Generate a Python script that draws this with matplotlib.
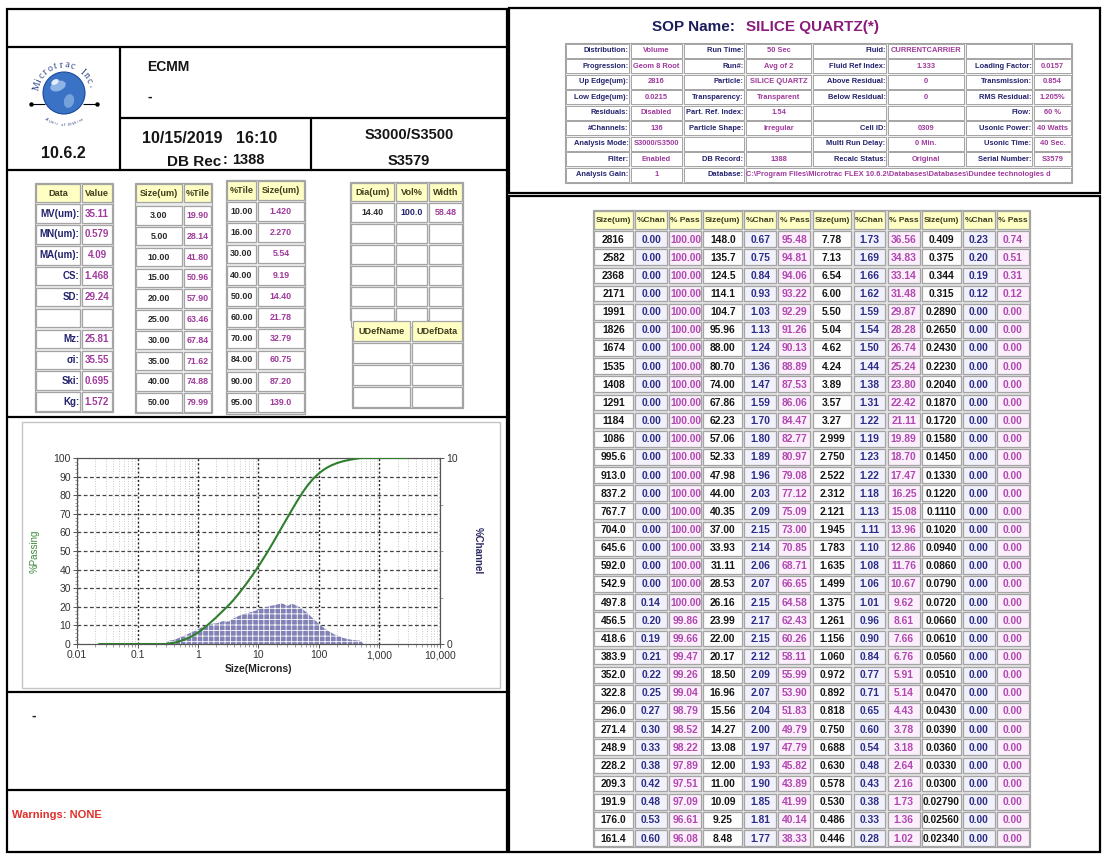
import matplotlib
matplotlib.use('Agg')
import matplotlib.pyplot as plt
from matplotlib.patches import Rectangle, Circle, Ellipse
from matplotlib.ticker import FixedLocator, MultipleLocator, NullFormatter, LogLocator
import numpy as np

plt.rcParams['font.family'] = ['Liberation Sans', 'DejaVu Sans']
plt.rcParams['hatch.color'] = 'white'
plt.rcParams['hatch.linewidth'] = 0.6

# ---------------- data ----------------
size_g1 = ["2816", "2582", "2368", "2171", "1991", "1826", "1674", "1535", "1408", "1291", "1184", "1086",
           "995.6", "913.0", "837.2", "767.7", "704.0", "645.6", "592.0", "542.9", "497.8", "456.5", "418.6",
           "383.9", "352.0", "322.8", "296.0", "271.4", "248.9", "228.2", "209.3", "191.9", "176.0", "161.4"]
size_g2 = ["148.0", "135.7", "124.5", "114.1", "104.7", "95.96", "88.00", "80.70", "74.00", "67.86", "62.23",
           "57.06", "52.33", "47.98", "44.00", "40.35", "37.00", "33.93", "31.11", "28.53", "26.16", "23.99",
           "22.00", "20.17", "18.50", "16.96", "15.56", "14.27", "13.08", "12.00", "11.00", "10.09", "9.25", "8.48"]
size_g3 = ["7.78", "7.13", "6.54", "6.00", "5.50", "5.04", "4.62", "4.24", "3.89", "3.57", "3.27", "2.999",
           "2.750", "2.522", "2.312", "2.121", "1.945", "1.783", "1.635", "1.499", "1.375", "1.261", "1.156",
           "1.060", "0.972", "0.892", "0.818", "0.750", "0.688", "0.630", "0.578", "0.530", "0.486", "0.446"]
size_g4 = ["0.409", "0.375", "0.344", "0.315", "0.2890", "0.2650", "0.2430", "0.2230", "0.2040", "0.1870",
           "0.1720", "0.1580", "0.1450", "0.1330", "0.1220", "0.1110", "0.1020", "0.0940", "0.0860", "0.0790",
           "0.0720", "0.0660", "0.0610", "0.0560", "0.0510", "0.0470", "0.0430", "0.0390", "0.0360", "0.0330",
           "0.0300", "0.02790", "0.02560", "0.02340"]

chan_g1 = [0.00, 0.00, 0.00, 0.00, 0.00, 0.00, 0.00, 0.00, 0.00, 0.00, 0.00, 0.00, 0.00, 0.00, 0.00, 0.00,
           0.00, 0.00, 0.00, 0.00, 0.14, 0.20, 0.19, 0.21, 0.22, 0.25, 0.27, 0.30, 0.33, 0.38, 0.42, 0.48,
           0.53, 0.60]
pass_g1 = [100.00, 100.00, 100.00, 100.00, 100.00, 100.00, 100.00, 100.00, 100.00, 100.00, 100.00, 100.00,
           100.00, 100.00, 100.00, 100.00, 100.00, 100.00, 100.00, 100.00, 100.00, 99.86, 99.66, 99.47, 99.26,
           99.04, 98.79, 98.52, 98.22, 97.89, 97.51, 97.09, 96.61, 96.08]
chan_g2 = [0.67, 0.75, 0.84, 0.93, 1.03, 1.13, 1.24, 1.36, 1.47, 1.59, 1.70, 1.80, 1.89, 1.96, 2.03, 2.09,
           2.15, 2.14, 2.06, 2.07, 2.15, 2.17, 2.15, 2.12, 2.09, 2.07, 2.04, 2.00, 1.97, 1.93, 1.90, 1.85,
           1.81, 1.77]
pass_g2 = [95.48, 94.81, 94.06, 93.22, 92.29, 91.26, 90.13, 88.89, 87.53, 86.06, 84.47, 82.77, 80.97, 79.08,
           77.12, 75.09, 73.00, 70.85, 68.71, 66.65, 64.58, 62.43, 60.26, 58.11, 55.99, 53.90, 51.83, 49.79,
           47.79, 45.82, 43.89, 41.99, 40.14, 38.33]
chan_g3 = [1.73, 1.69, 1.66, 1.62, 1.59, 1.54, 1.50, 1.44, 1.38, 1.31, 1.22, 1.19, 1.23, 1.22, 1.18, 1.13,
           1.11, 1.10, 1.08, 1.06, 1.01, 0.96, 0.90, 0.84, 0.77, 0.71, 0.65, 0.60, 0.54, 0.48, 0.43, 0.38,
           0.33, 0.28]
pass_g3 = [36.56, 34.83, 33.14, 31.48, 29.87, 28.28, 26.74, 25.24, 23.80, 22.42, 21.11, 19.89, 18.70, 17.47,
           16.25, 15.08, 13.96, 12.86, 11.76, 10.67, 9.62, 8.61, 7.66, 6.76, 5.91, 5.14, 4.43, 3.78, 3.18,
           2.64, 2.16, 1.73, 1.36, 1.02]
chan_g4 = [0.23, 0.20, 0.19, 0.12, 0.00, 0.00, 0.00, 0.00, 0.00, 0.00, 0.00, 0.00, 0.00, 0.00, 0.00, 0.00,
           0.00, 0.00, 0.00, 0.00, 0.00, 0.00, 0.00, 0.00, 0.00, 0.00, 0.00, 0.00, 0.00, 0.00, 0.00, 0.00,
           0.00, 0.00]
pass_g4 = [0.74, 0.51, 0.31, 0.12, 0.00, 0.00, 0.00, 0.00, 0.00, 0.00, 0.00, 0.00, 0.00, 0.00, 0.00, 0.00,
           0.00, 0.00, 0.00, 0.00, 0.00, 0.00, 0.00, 0.00, 0.00, 0.00, 0.00, 0.00, 0.00, 0.00, 0.00, 0.00,
           0.00, 0.00]

stat_labels = ["MV(um):", "MN(um):", "MA(um):", "CS:", "SD:", "", "Mz:", "σi:", "Ski:", "Kg:"]
stat_values = ["35.11", "0.579", "4.09", "1.468", "29.24", "", "25.81", "35.55", "0.695", "1.572"]
tile_sizes = ["3.00", "5.00", "10.00", "15.00", "20.00", "25.00", "30.00", "35.00", "40.00", "50.00"]
tile_pcts = ["19.90", "28.14", "41.80", "50.96", "57.90", "63.46", "67.84", "71.62", "74.88", "79.99"]
ptile_pcts = ["10.00", "16.00", "30.00", "40.00", "50.00", "60.00", "70.00", "84.00", "90.00", "95.00"]
ptile_sizes = ["1.420", "2.270", "5.54", "9.19", "14.40", "21.78", "32.79", "60.75", "87.20", "139.0"]
peak_dia = ["14.40"]
peak_vol = ["100.0"]
peak_width = ["58.48"]

sop_rows = [
    ["Distribution:", "Volume", "Run Time:", "50 Sec", "Fluid:", "CURRENTCARRIER", "", ""],
    ["Progression:", "Geom 8 Root", "Run#:", "Avg of 2", "Fluid Ref Index:", "1.333", "Loading Factor:", "0.0157"],
    ["Up Edge(um):", "2816", "Particle:", "SILICE QUARTZ", "Above Residual:", "0", "Transmission:", "0.854"],
    ["Low Edge(um):", "0.0215", "Transparency:", "Transparent", "Below Residual:", "0", "RMS Residual:", "1.205%"],
    ["Residuals:", "Disabled", "Part. Ref. Index:", "1.54", "", "", "Flow:", "60 %"],
    ["#Channels:", "136", "Particle Shape:", "Irregular", "Cell ID:", "0309", "Usonic Power:", "40 Watts"],
    ["Analysis Mode:", "S3000/S3500", "", "", "Multi Run Delay:", "0 Min.", "Usonic Time:", "40 Sec."],
    ["Filter:", "Enabled", "DB Record:", "1388", "Recalc Status:", "Original", "Serial Number:", "S3579"],
]
sop_last = ["Analysis Gain:", "1", "Database:",
            r"C:\Program Files\Microtrac FLEX 10.6.2\Databases\Databases\Dundee technologies d"]

x_tick_vals = [0.01, 0.1, 1, 10, 100, 1000, 10000]
x_tick_labels = ["0.01", "0.1", "1", "10", "100", "1,000", "10,000"]

# ---------------- figure ----------------
W, H = 1102, 857
fig = plt.figure(figsize=(W / 100, H / 100), dpi=100)
bg = fig.add_axes([0, 0, 1, 1])
bg.set_xlim(0, W)
bg.set_ylim(H, 0)
bg.axis('off')

NAVY = '#23236e'
PURP = '#a03a9c'
GRID = '#a4a4a4'


def line(x0, y0, x1, y1, lw=1.6, c='black'):
    bg.plot([x0, x1], [y0, y1], color=c, lw=lw, solid_capstyle='butt')


def rect(x0, y0, w, h, fc='none', ec='black', lw=1.6, z=1):
    r = Rectangle((x0, y0), w, h, facecolor=fc, edgecolor=ec, linewidth=lw, zorder=z)
    bg.add_patch(r)
    return r


def cell(x0, y0, w, h, fc='white', ec=GRID, lw=0.9, inset=1.2):
    return rect(x0 + inset, y0 + inset, w - 2 * inset, h - 2 * inset, fc=fc, ec=ec, lw=lw, z=2)


def txt(x, y, s, size, color='black', ha='center', va='center', weight='normal', clip=None, **kw):
    t = bg.text(x, y, s, fontsize=size, color=color, ha=ha, va=va, fontweight=weight, zorder=3, **kw)
    if clip is not None:
        t.set_clip_path(clip)
    return t


# ---------------- left panel frame ----------------
LX0, LX1 = 7, 507
rect(LX0, 9, LX1 - LX0, 852 - 9)
line(LX0, 47, LX1, 47)
line(120, 47, 120, 170)
line(120, 118, LX1, 118)
line(311, 118, 311, 170)
line(LX0, 170, LX1, 170)
line(LX0, 417, LX1, 417)
line(LX0, 692, LX1, 692)
line(LX0, 790, LX1, 790)

# logo
gcx, gcy, gr = 64, 93, 21
line(31, 104, 45, 104, lw=0.8)
line(83, 104, 97, 104, lw=0.8)
bg.plot([31, 97], [104, 104], 'o', color='black', ms=2.2, zorder=3)
bg.add_patch(Circle((gcx, gcy), gr, facecolor='#3a72c6', edgecolor='#1b4a9a', lw=0.8, zorder=2))
bg.add_patch(Ellipse((gcx - 6, gcy - 7), 16, 10, angle=-20, facecolor='#8fb4e8', edgecolor='none', zorder=2))
bg.add_patch(Ellipse((gcx + 5, gcy + 8), 10, 14, angle=15, facecolor='#76a2dc', edgecolor='none', zorder=2))
bg.add_patch(Ellipse((gcx - 9, gcy - 11), 8, 5, angle=-30, facecolor='#e4eefb', edgecolor='none', zorder=2))
logo_txt = "Microtrac Inc."
angs = np.linspace(165, 15, len(logo_txt))
for ch, a in zip(logo_txt, angs):
    R = 28
    bg.text(gcx + R * np.cos(np.radians(a)), gcy - R * np.sin(np.radians(a)), ch, fontsize=7,
            color='#24407e', ha='center', va='center', rotation=a - 90, family='Liberation Serif', zorder=3)
sub_txt = "A Unit of Nikkiso"
angs = np.linspace(235, 305, len(sub_txt))
for ch, a in zip(sub_txt, angs):
    R = 32
    bg.text(gcx + R * np.cos(np.radians(a)), gcy - R * np.sin(np.radians(a)), ch, fontsize=2.8,
            color='#24407e', ha='center', va='center', rotation=a + 90, style='italic', zorder=3)
txt(63, 153, "10.6.2", 11.5, weight='bold', color='#151515')

txt(147, 67, "ECMM", 10, ha='left', weight='bold', color='#151515')
txt(148, 97, "-", 10, ha='left', weight='bold', color='#151515')
txt(210, 138, "10/15/2019   16:10", 11.5, weight='bold', color='#151515')
txt(167, 162, "DB Rec", 11, ha='left', weight='bold', color='#151515')
txt(223, 160, ":", 10, ha='left', weight='bold', color='#151515')
txt(232, 160, "1388", 10.5, ha='left', weight='bold', color='#151515')
txt(409, 135, "S3000/S3500", 10.5, weight='bold', color='#151515')
txt(409, 161, "S3579", 10.5, weight='bold', color='#151515')

# ---------------- left tables ----------------
HDR = '#ffffc4'
HTXT = '#3e3e1e'
FH = 6.6   # header font
FA = 7.0   # table A body font
FS = 6.4   # other body font

# Table A: Data / Value
ax_cols = [35, 81, 113]
rect(ax_cols[0], 183, ax_cols[2] - ax_cols[0], 412 - 183, fc='#ececec', ec=GRID, lw=0.9)
for j, name in enumerate(["Data", "Value"]):
    cell(ax_cols[j], 183, ax_cols[j + 1] - ax_cols[j], 20, fc=HDR)
    txt((ax_cols[j] + ax_cols[j + 1]) / 2, 193, name, FH, color=HTXT, weight='bold')
for i, (lab, val) in enumerate(zip(stat_labels, stat_values)):
    y0 = 203 + i * 20.9
    c0 = cell(ax_cols[0], y0, ax_cols[1] - ax_cols[0], 20.9)
    c = cell(ax_cols[1], y0, ax_cols[2] - ax_cols[1], 20.9)
    txt(ax_cols[1] - 1.5, y0 + 10.5, lab, FA, color=NAVY, ha='right', weight='bold', clip=c0)
    txt((ax_cols[1] + ax_cols[2]) / 2, y0 + 10.5, val, FA, color=PURP, weight='bold', clip=c)

# Table B: Size(um) / %Tile
bx = [135, 183, 212]
rect(bx[0], 183, bx[2] - bx[0], 413 - 183, fc='#ececec', ec=GRID, lw=0.9)
for j, name in enumerate(["Size(um)", "%Tile"]):
    c = cell(bx[j], 183, bx[j + 1] - bx[j], 20, fc=HDR)
    txt((bx[j] + bx[j + 1]) / 2, 193, name, FH, color=HTXT, weight='bold', clip=c)
for i, (s, p) in enumerate(zip(tile_sizes, tile_pcts)):
    y0 = 205 + i * 20.8
    cell(bx[0], y0, bx[1] - bx[0], 20.8)
    c = cell(bx[1], y0, bx[2] - bx[1], 20.8)
    txt((bx[0] + bx[1]) / 2, y0 + 10.5, s, FS, color='#2a2a2a', weight='bold')
    txt((bx[1] + bx[2]) / 2, y0 + 10.5, p, FS, color=PURP, weight='bold', clip=c)

# Table C: %Tile / Size(um)
cx = [226, 257, 305]
rect(cx[0], 180, cx[2] - cx[0], 414 - 180, fc='#ececec', ec=GRID, lw=0.9)
for j, name in enumerate(["%Tile", "Size(um)"]):
    c = cell(cx[j], 180, cx[j + 1] - cx[j], 21, fc=HDR)
    txt((cx[j] + cx[j + 1]) / 2, 190, name, FH, color=HTXT, weight='bold', clip=c)
for i, (p, s) in enumerate(zip(ptile_pcts, ptile_sizes)):
    y0 = 201 + i * 21.2
    c = cell(cx[0], y0, cx[1] - cx[0], 21.2)
    cell(cx[1], y0, cx[2] - cx[1], 21.2)
    txt((cx[0] + cx[1]) / 2, y0 + 10.5, p, FS, color='#2a2a2a', weight='bold', clip=c)
    txt((cx[1] + cx[2]) / 2, y0 + 10.5, s, FS, color=PURP, weight='bold')

# Table D: peaks
dx = [350, 395, 428, 463]
rect(dx[0], 182, dx[3] - dx[0], 320 - 182, fc='#ececec', ec=GRID, lw=0.9)
for j, name in enumerate(["Dia(um)", "Vol%", "Width"]):
    cell(dx[j], 182, dx[j + 1] - dx[j], 20, fc=HDR)
    txt((dx[j] + dx[j + 1]) / 2, 192, name, FH, color=HTXT, weight='bold')
peak_rows = [[peak_dia[0], peak_vol[0], peak_width[0]], ["", "", ""], ["", "", ""], ["", "", ""], ["", "", ""],
             ["", "", ""]]
pcols = ['#2a2a2a', NAVY, PURP]
for i, row in enumerate(peak_rows):
    y0 = 202 + i * 21
    for j in range(3):
        cell(dx[j], y0, dx[j + 1] - dx[j], 21)
        if row[j]:
            txt((dx[j] + dx[j + 1]) / 2, y0 + 10.5, row[j], FS, color=pcols[j], weight='bold')

# UDef table
ux = [352, 411, 463]
rect(ux[0], 320, ux[2] - ux[0], 408 - 320, fc='#ececec', ec=GRID, lw=0.9)
for j, name in enumerate(["UDefName", "UDefData"]):
    c = cell(ux[j], 320, ux[j + 1] - ux[j], 22, fc=HDR)
    txt((ux[j] + ux[j + 1]) / 2, 331, name, FH, color=HTXT, weight='bold', clip=c)
for i in range(3):
    y0 = 342 + i * 22
    for j in range(2):
        cell(ux[j], y0, ux[j + 1] - ux[j], 22)

# ---------------- chart ----------------
rect(22, 422, 500 - 22, 688 - 422, ec='#c4c4c4', lw=1.0)
AX_L, AX_R, AX_T, AX_B = 77, 440, 458, 644
ax = fig.add_axes([AX_L / W, 1 - AX_B / H, (AX_R - AX_L) / W, (AX_B - AX_T) / H])
ax2 = ax.twinx()
sizes_all = [float(s) for s in size_g1 + size_g2 + size_g3 + size_g4]
pass_all = pass_g1 + pass_g2 + pass_g3 + pass_g4
chan_all = chan_g1 + chan_g2 + chan_g3 + chan_g4

ax.set_xscale('log')
ax.set_xlim(0.01, 10000)
ax.set_ylim(0, 100)
ax2.set_ylim(0, 10)
ax.set_zorder(ax2.get_zorder() + 1)
ax.patch.set_visible(False)

ax2.fill_between(sizes_all, chan_all, color='#8282b6', edgecolor='white', hatch='+++', linewidth=0, zorder=2)
ax.plot(sizes_all, pass_all, color='#2f7f2f', lw=1.5, zorder=5)

ax.xaxis.set_major_locator(FixedLocator(x_tick_vals))
ax.set_xticklabels(x_tick_labels)
ax.xaxis.set_minor_locator(LogLocator(base=10, subs=np.arange(2, 10)))
ax.xaxis.set_minor_formatter(NullFormatter())
ax.yaxis.set_major_locator(MultipleLocator(10))
ax.yaxis.set_minor_locator(MultipleLocator(2))
ax2.yaxis.set_major_locator(FixedLocator([0, 10]))
ax2.yaxis.set_minor_locator(MultipleLocator(2.5))

for v in x_tick_vals:
    ax2.axvline(v, color='#222222', lw=1.0, ls=(0, (1.5, 1.5)), zorder=1)
for dec in [0.01, 0.1, 1, 10, 100, 1000]:
    for m in range(2, 10):
        ax2.axvline(dec * m, color='#b8b8b8', lw=0.6, ls=(0, (1, 2)), zorder=1)
for yv in range(10, 100, 10):
    ax2.axhline(yv / 10, color='#444444', lw=0.9, ls=(0, (3, 2)), zorder=1)

for a in (ax, ax2):
    for sp in a.spines.values():
        sp.set_color('#555555')
        sp.set_linewidth(0.8)
    a.tick_params(which='major', length=3, width=0.7, colors='#555555', labelcolor='#333333', labelsize=7.5,
                  pad=1.5)
    a.tick_params(which='minor', length=1.8, width=0.5, colors='#777777')
ax.set_xlabel("Size(Microns)", fontsize=7.5, fontweight='bold', color='#222222', labelpad=3)
ax.set_ylabel("%Passing", fontsize=7, color='#3c8c3c', labelpad=10)
ax2.set_ylabel("%Channel", fontsize=7, color='#2a2a60', fontweight='bold', rotation=270, labelpad=18)

# ---------------- bottom left ----------------
txt(32, 716, "-", 10, ha='left', weight='bold', color='#222222')
txt(12, 815, "Warnings: NONE", 8, ha='left', weight='bold', color='#e0302a')

# ---------------- right: SOP panel ----------------
RX0, RX1 = 509, 1100
rect(RX0, 8, RX1 - RX0, 193 - 8)
rect(RX0, 196, RX1 - RX0, 852 - 196)
txt(652, 27, "SOP Name:", 11, ha='left', weight='bold', color='#1c1c5c')
txt(746, 27, "SILICE QUARTZ(*)", 11, ha='left', weight='bold', color='#8a1c7c')

sx = [565, 630, 683, 745, 812, 887, 965, 1033, 1072]
sy0, sh = 43, 15.5
SFS = 5.4
rect(sx[0], sy0, sx[-1] - sx[0], 9 * sh, fc='#efefef', ec=GRID, lw=0.8)
for i, row in enumerate(sop_rows):
    y0 = sy0 + i * sh
    for j in range(8):
        c = cell(sx[j], y0, sx[j + 1] - sx[j], sh, inset=0.9, lw=0.7)
        if row[j]:
            if j % 2 == 0:
                txt(sx[j + 1] - 1.5, y0 + sh / 2, row[j], SFS, color=NAVY, ha='right', weight='bold', clip=c)
            else:
                txt((sx[j] + sx[j + 1]) / 2, y0 + sh / 2, row[j], SFS, color=PURP, weight='bold', clip=c)
y0 = sy0 + 8 * sh
for j in range(3):
    c = cell(sx[j], y0, sx[j + 1] - sx[j], sh, inset=0.9, lw=0.7)
    if j % 2 == 0:
        txt(sx[j + 1] - 1.5, y0 + sh / 2, sop_last[j], SFS, color=NAVY, ha='right', weight='bold', clip=c)
    else:
        txt((sx[j] + sx[j + 1]) / 2, y0 + sh / 2, sop_last[j], SFS, color=PURP, weight='bold', clip=c)
c = cell(sx[3], y0, sx[-1] - sx[3], sh, inset=0.9, lw=0.7)
txt(sx[3] + 1.5, y0 + sh / 2, sop_last[3], SFS, color=PURP, ha='left', weight='bold', clip=c)

# ---------------- right: big channel table ----------------
TX0 = 593
GW = 109.25
subw = [41, 34, 34.25]
TY0, HH, RH = 210, 20, 18.15
groups = [(size_g1, chan_g1, pass_g1), (size_g2, chan_g2, pass_g2),
          (size_g3, chan_g3, pass_g3), (size_g4, chan_g4, pass_g4)]
nrows = len(size_g1)
rect(TX0, TY0, 4 * GW, HH + nrows * RH, fc='#e2e2e2', ec=GRID, lw=0.9)
hdr_names = ["Size(um)", "%Chan", "% Pass"]
TFS = 7.4
for g, (sz, ch, ps) in enumerate(groups):
    gx = TX0 + g * GW
    xs = [gx, gx + subw[0], gx + subw[0] + subw[1], gx + GW]
    for k in range(3):
        c = cell(xs[k], TY0, xs[k + 1] - xs[k], HH, fc=HDR)
        txt((xs[k] + xs[k + 1]) / 2, TY0 + HH / 2, hdr_names[k], 6.0, color='#3a3a20', weight='bold', clip=c)
    for i in range(nrows):
        y0 = TY0 + HH + i * RH
        yc = y0 + RH / 2 + 0.5
        c0 = cell(xs[0], y0, subw[0], RH, fc='#fdfdfd')
        c1 = cell(xs[1], y0, subw[1], RH, fc='#f1f1fb')
        c2 = cell(xs[2], y0, subw[2], RH, fc='#fbeffb')
        txt((xs[0] + xs[1]) / 2, yc, sz[i], TFS, color='#151515', weight='bold', clip=c0)
        txt((xs[1] + xs[2]) / 2, yc, f"{ch[i]:.2f}", TFS, color='#2c2c86', weight='bold', clip=c1)
        ptxt = f"{ps[i]:.2f}"
        if len(ptxt) > 5:
            txt(xs[2] + 2.5, yc, ptxt, TFS, color='#b048b0', ha='left', weight='bold', clip=c2)
        else:
            txt((xs[2] + xs[3]) / 2, yc, ptxt, TFS, color='#b048b0', weight='bold', clip=c2)

fig.savefig('out.png', dpi=100)
